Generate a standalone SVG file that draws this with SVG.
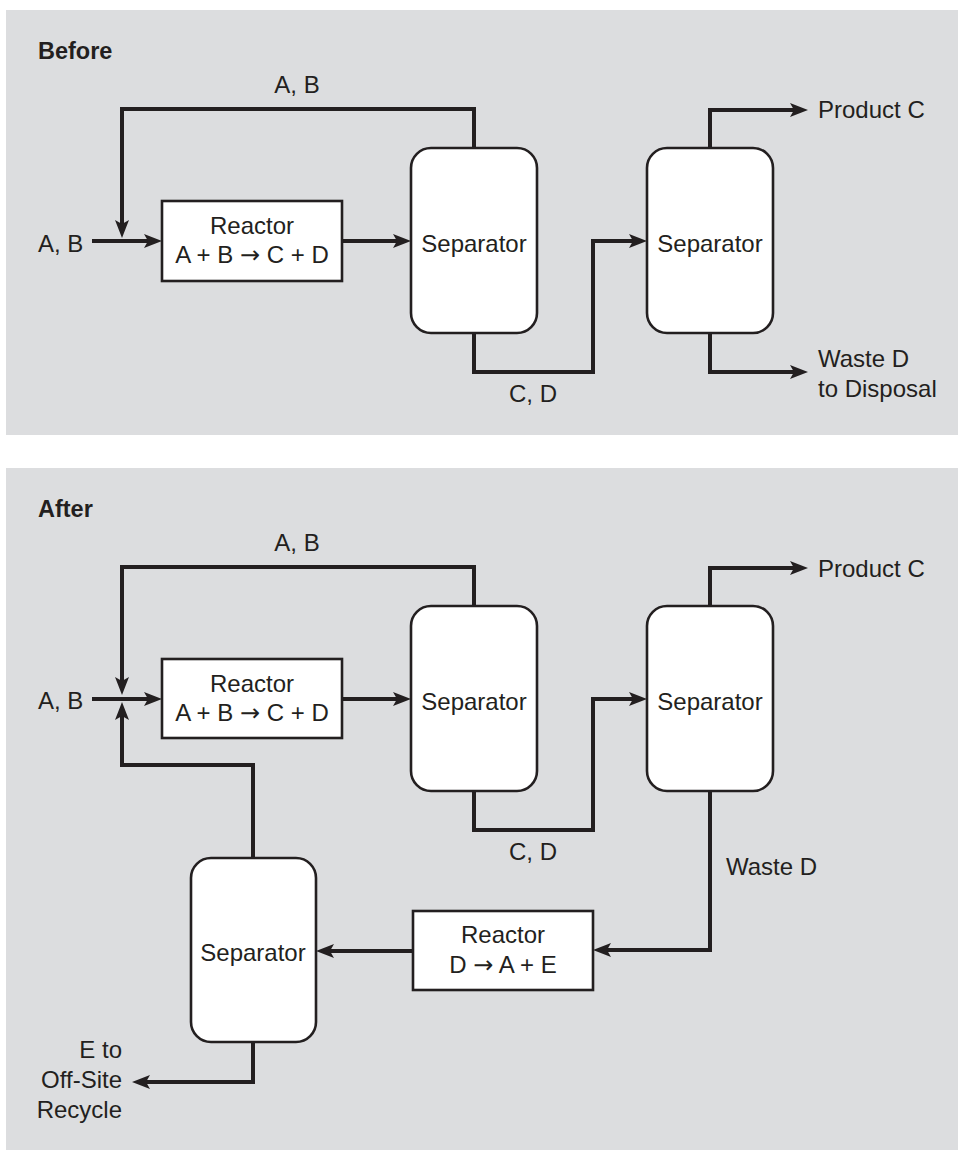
<svg xmlns="http://www.w3.org/2000/svg" width="958" height="1151" viewBox="0 0 958 1151">
<style>
.panel{fill:#dcdddf}
.box{fill:#fff;stroke:#231f20;stroke-width:2.6}
.flow{fill:none;stroke:#231f20;stroke-width:4;stroke-linejoin:miter;stroke-linecap:butt}
text{font-family:"Liberation Sans",Arial,Helvetica,sans-serif;font-size:24px;fill:#231f20}
.title{font-weight:bold;font-size:23.5px}
.c{text-anchor:middle}
.r{text-anchor:end}
.arr{font-family:"DejaVu Sans",sans-serif;font-size:24px}
</style>
<defs>
<marker id="ah" viewBox="0 0 18 14" refX="8" refY="7" markerWidth="18" markerHeight="14" markerUnits="userSpaceOnUse" orient="auto">
<path d="M0,0 L18,7 L0,14 L4,7 Z" fill="#231f20"/>
</marker>
</defs>
<rect class="panel" x="6" y="10" width="952" height="425"/>
<rect class="panel" x="6" y="468" width="952" height="682"/>
<text class="title" x="38" y="59">Before</text>
<text class="title" x="38" y="517">After</text>
<g id="connectors">
<path class="flow" d="M474,148 V109 H122 V228" marker-end="url(#ah)"/>
<path class="flow" d="M92,241 H152" marker-end="url(#ah)"/>
<path class="flow" d="M342,241 H401" marker-end="url(#ah)"/>
<path class="flow" d="M474,333 V372 H593 V241 H637" marker-end="url(#ah)"/>
<path class="flow" d="M710,148 V110 H798" marker-end="url(#ah)"/>
<path class="flow" d="M710,333 V372 H798" marker-end="url(#ah)"/>
<path class="flow" d="M474,606 V567 H122 V685" marker-end="url(#ah)"/>
<path class="flow" d="M92,699 H152" marker-end="url(#ah)"/>
<path class="flow" d="M342,699 H401" marker-end="url(#ah)"/>
<path class="flow" d="M474,791 V830 H593 V699 H637" marker-end="url(#ah)"/>
<path class="flow" d="M710,606 V568 H798" marker-end="url(#ah)"/>
<path class="flow" d="M710,791 V950 H603" marker-end="url(#ah)"/>
<path class="flow" d="M413,951 H326" marker-end="url(#ah)"/>
<path class="flow" d="M253,858 V765 H122 V712" marker-end="url(#ah)"/>
<path class="flow" d="M253,1042 V1082 H142" marker-end="url(#ah)"/>
<text class="c" x="297" y="93">A, B</text>
<text x="38" y="252">A, B</text>
<text class="c" x="533" y="402">C, D</text>
<text x="818" y="118">Product C</text>
<text x="818" y="367">Waste D</text>
<text x="818" y="397">to Disposal</text>
<text class="c" x="297" y="551">A, B</text>
<text x="38" y="709">A, B</text>
<text class="c" x="533" y="860">C, D</text>
<text x="818" y="577">Product C</text>
<text x="726" y="875">Waste D</text>
<text class="r" x="122" y="1058">E to</text>
<text class="r" x="122" y="1088">Off-Site</text>
<text class="r" x="122" y="1118">Recycle</text>
</g>
<g id="reactor1-before">
<rect class="box" x="162" y="201" width="180" height="80"/>
<text class="c" x="252" y="234">Reactor</text>
<text class="c" x="252" y="263">A + B <tspan class="arr">→</tspan> C + D</text>
</g>
<g id="separator1-before">
<rect class="box" x="411" y="148" width="126" height="185" rx="20"/>
<text class="c" x="474" y="252">Separator</text>
</g>
<g id="separator2-before">
<rect class="box" x="647" y="148" width="126" height="185" rx="20"/>
<text class="c" x="710" y="252">Separator</text>
</g>
<g id="reactor1-after">
<rect class="box" x="162" y="659" width="180" height="79"/>
<text class="c" x="252" y="692">Reactor</text>
<text class="c" x="252" y="721">A + B <tspan class="arr">→</tspan> C + D</text>
</g>
<g id="separator1-after">
<rect class="box" x="411" y="606" width="126" height="185" rx="20"/>
<text class="c" x="474" y="710">Separator</text>
</g>
<g id="separator2-after">
<rect class="box" x="647" y="606" width="126" height="185" rx="20"/>
<text class="c" x="710" y="710">Separator</text>
</g>
<g id="reactor2-after">
<rect class="box" x="413" y="911" width="180" height="79"/>
<text class="c" x="503" y="943">Reactor</text>
<text class="c" x="503" y="973">D <tspan class="arr">→</tspan> A + E</text>
</g>
<g id="separator3-after">
<rect class="box" x="191" y="858" width="125" height="184" rx="20"/>
<text class="c" x="253" y="961">Separator</text>
</g>
</svg>
